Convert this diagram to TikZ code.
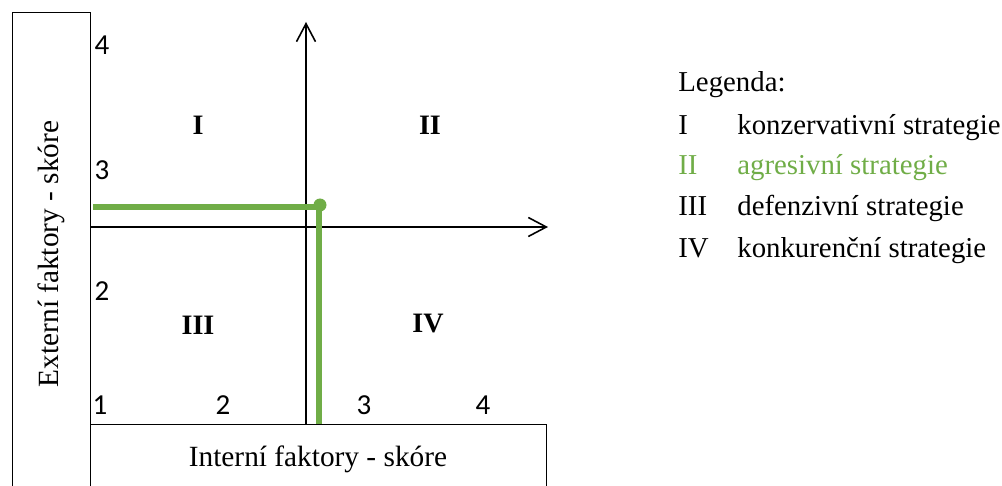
\documentclass[tikz,border=0pt]{standalone}
\usepackage{fontspec}
\setmainfont{Liberation Serif}
\newfontfamily\numfont{Carlito}
\usetikzlibrary{arrows.meta,positioning}
\definecolor{strgreen}{RGB}{112,173,71}

\begin{document}
\begin{tikzpicture}[x=0.02cm,y=-0.02cm,>={Straight Barb[length=3.6mm,width=3.8mm]}]
  \tikzstyle{box}=[draw,line width=0.6pt,inner sep=0pt]
  \tikzstyle{axis}=[->,line width=0.9pt]
  \tikzstyle{num}=[font=\numfont\fontsize{16.5}{19}\selectfont,inner sep=0pt]
  \tikzstyle{quad}=[font=\fontsize{16}{19}\selectfont\bfseries,inner sep=0pt]
  \tikzstyle{title}=[font=\fontsize{16.7}{20}\selectfont,inner sep=0pt]
  \tikzstyle{leg}=[font=\fontsize{16.4}{20}\selectfont,anchor=base west,inner sep=0pt]
  \useasboundingbox (0,0) rectangle (1002,486);
  % boxes with the axis titles
  \node[box,anchor=north west,minimum width=1.56cm,minimum height=9.8cm] (extbox) at (12,12) {};
  \node[box,anchor=north west,minimum width=9.12cm,minimum height=1.6cm] (intbox) at (90,424) {};
  \node[title,anchor=base,rotate=90] (extlab) at (58,254) {Externí faktory - skóre};
  \node[title,anchor=base] (intlab) at (318,467) {Interní faktory - skóre};
  % axes
  \coordinate (xa) at (90,227);
  \coordinate (xtip) at (548,227);
  \coordinate (ya) at (306,424);
  \coordinate (ytip) at (306,22);
  \draw[axis] (xa) -- (xtip);
  \draw[axis] (ya) -- (ytip);
  % scale numbers
  \node[num] (y4) at (102,45) {4};
  \node[num] (y3) at (102,170) {3};
  \node[num] (y2) at (102,291) {2};
  \node[num] (y1) at (100,405) {1};
  \node[num] (x2) at (223,405) {2};
  \node[num] (x3) at (364,405) {3};
  \node[num] (x4) at (483,405) {4};
  % quadrants
  \node[quad] (q1) at (198,125) {I};
  \node[quad] (q2) at (430,125) {II};
  \node[quad] (q3) at (198,325) {III};
  \node[quad] (q4) at (428,324) {IV};
  % position of the firm
  \coordinate (gstart) at (93,207);
  \coordinate (gpt) at (319,207);
  \draw[strgreen,line width=3.4pt] (gstart) -- (gpt) -- (gpt |- intbox.north);
  \fill[strgreen] (gpt) ++(1,-2) circle[radius=0.13cm];
  % legend
  \node[leg] (legt) at (678,92) {Legenda:};
  \node[leg] (l1) at (678,135) {I};
  \node[leg] (t1) at (737,135) {konzervativní strategie};
  \node[leg,text=strgreen] (l2) at (678,175) {II};
  \node[leg,text=strgreen] (t2) at (737,175) {agresivní strategie};
  \node[leg] (l3) at (678,216) {III};
  \node[leg] (t3) at (737,216) {defenzivní strategie};
  \node[leg] (l4) at (678,258) {IV};
  \node[leg] (t4) at (737,258) {konkurenční strategie};
\end{tikzpicture}
\end{document}
